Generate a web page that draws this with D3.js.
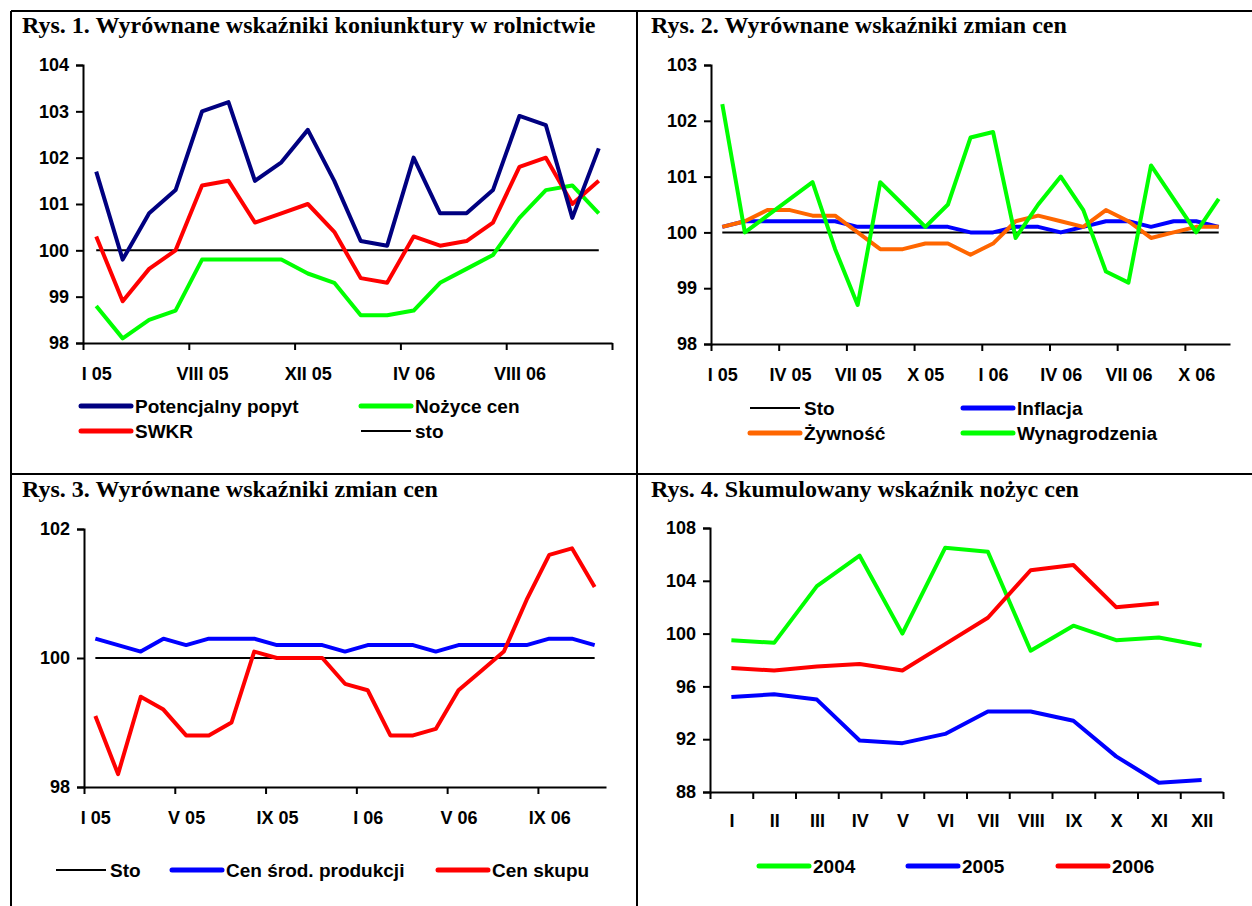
<!DOCTYPE html>
<html>
<head>
<meta charset="utf-8">
<script src="https://cdn.jsdelivr.net/npm/d3@7"></script>
<style>
  body { margin: 0; background: #fff; }
  .title { font-family: "Liberation Serif", "Times New Roman", serif; font-weight: bold; font-size: 24px; }
  .tick text { font-family: "Liberation Sans", Arial, sans-serif; font-weight: bold; font-size: 18px; fill: #000; }
  .lbl { font-family: "Liberation Sans", Arial, sans-serif; font-weight: bold; font-size: 19px; fill: #000; }
</style>
</head>
<body>
<svg id="chart" width="1252" height="906"></svg>
<script>
// Rys. 1 - 20 months
var r1Ticks = ["I 05", "VIII 05", "XII 05", "IV 06", "VIII 06"];
var r1Popyt = [101.7, 99.8, 100.8, 101.3, 103.0, 103.2, 101.5, 101.9, 102.6, 101.5, 100.2, 100.1, 102.0, 100.8, 100.8, 101.3, 102.9, 102.7, 100.7, 102.2];
var r1Swkr  = [100.3, 98.9, 99.6, 100.0, 101.4, 101.5, 100.6, 100.8, 101.0, 100.4, 99.4, 99.3, 100.3, 100.1, 100.2, 100.6, 101.8, 102.0, 101.0, 101.5];
var r1Nozyce = [98.8, 98.1, 98.5, 98.7, 99.8, 99.8, 99.8, 99.8, 99.5, 99.3, 98.6, 98.6, 98.7, 99.3, 99.6, 99.9, 100.7, 101.3, 101.4, 100.8];

// Rys. 2 - 23 months
var r2Ticks = ["I 05", "IV 05", "VII 05", "X 05", "I 06", "IV 06", "VII 06", "X 06"];
var r2Inflacja = [100.1, 100.2, 100.2, 100.2, 100.2, 100.2, 100.1, 100.1, 100.1, 100.1, 100.1, 100.0, 100.0, 100.1, 100.1, 100.0, 100.1, 100.2, 100.2, 100.1, 100.2, 100.2, 100.1];
var r2Zywnosc = [100.1, 100.2, 100.4, 100.4, 100.3, 100.3, 100.0, 99.7, 99.7, 99.8, 99.8, 99.6, 99.8, 100.2, 100.3, 100.2, 100.1, 100.4, 100.2, 99.9, 100.0, 100.1, 100.1];
var r2Wynagr = [102.3, 100.0, 100.3, 100.6, 100.9, 99.7, 98.7, 100.9, 100.5, 100.1, 100.5, 101.7, 101.8, 99.9, 100.5, 101.0, 100.4, 99.3, 99.1, 101.2, 100.6, 100.0, 100.6];

// Rys. 3 - 23 months
var r3Ticks = ["I 05", "V 05", "IX 05", "I 06", "V 06", "IX 06"];
var r3Srodki = [100.3, 100.2, 100.1, 100.3, 100.2, 100.3, 100.3, 100.3, 100.2, 100.2, 100.2, 100.1, 100.2, 100.2, 100.2, 100.1, 100.2, 100.2, 100.2, 100.2, 100.3, 100.3, 100.2];
var r3Skup = [99.1, 98.2, 99.4, 99.2, 98.8, 98.8, 99.0, 100.1, 100.0, 100.0, 100.0, 99.6, 99.5, 98.8, 98.8, 98.9, 99.5, 99.8, 100.1, 100.9, 101.6, 101.7, 101.1];

// Rys. 4 - months I..XII
var r4Ticks = ["I", "II", "III", "IV", "V", "VI", "VII", "VIII", "IX", "X", "XI", "XII"];
var r4y2004 = [99.5, 99.3, 103.6, 105.9, 100.0, 106.5, 106.2, 98.7, 100.6, 99.5, 99.7, 99.1];
var r4y2005 = [95.2, 95.4, 95.0, 91.9, 91.7, 92.4, 94.1, 94.1, 93.4, 90.7, 88.7, 88.9];
var r4y2006 = [97.4, 97.2, 97.5, 97.7, 97.2, 99.2, 101.2, 104.8, 105.2, 102.0, 102.3];

var svg = d3.select("#chart");

// frame
var frame = svg.append("g").attr("stroke", "#000").attr("stroke-width", 2);
frame.append("line").attr("x1", 11).attr("y1", 11).attr("x2", 1252).attr("y2", 11);
frame.append("line").attr("x1", 11).attr("y1", 11).attr("x2", 11).attr("y2", 906);
frame.append("line").attr("x1", 637).attr("y1", 11).attr("x2", 637).attr("y2", 906);
frame.append("line").attr("x1", 11).attr("y1", 474).attr("x2", 1252).attr("y2", 474);

function drawPanel(p) {
    var g = svg.append("g");
    var n = p.n;

    g.append("text").attr("class", "title")
        .attr("x", p.titleX).attr("y", p.titleY)
        .text(p.title);

    var x = d3.scaleLinear().domain([0, n]).range([p.x0, p.x1]);
    var y = d3.scaleLinear().domain(p.yDomain).range([p.y1, p.y0]);

    // y axis
    var yAxis = g.append("g")
        .attr("transform", "translate(" + p.x0 + ",0)")
        .call(d3.axisLeft(y).tickValues(d3.range(p.yDomain[0], p.yDomain[1] + 0.001, p.yStep))
            .tickSize(7).tickPadding(7).tickFormat(d3.format("d")));

    // x axis: tick marks on category boundaries
    var xAxis = g.append("g")
        .attr("transform", "translate(0," + p.y1 + ")")
        .call(d3.axisBottom(x).tickValues(d3.range(0, n + 0.001, p.every))
            .tickSize(7).tickSizeOuter(0).tickFormat(""));

    // x labels centred on categories
    var lblAxis = g.append("g")
        .attr("transform", "translate(0," + p.y1 + ")")
        .call(d3.axisBottom(x).tickValues(p.ticks.map(function(d, i) { return i * p.every + 0.5; }))
            .tickSize(0).tickPadding(p.lblPad)
            .tickFormat(function(d, i) { return p.ticks[i]; }));
    lblAxis.select(".domain").remove();

    [yAxis, xAxis].forEach(function(a) {
        a.selectAll(".domain, line").attr("stroke", "#000").attr("stroke-width", 2);
    });
    g.selectAll(".tick text").attr("font-family", null).attr("font-size", null);

    // sto line
    if (p.sto) {
        g.append("line")
            .attr("x1", x(0.5)).attr("x2", x(n - 0.5))
            .attr("y1", y(100)).attr("y2", y(100))
            .attr("stroke", "#000").attr("stroke-width", 2);
    }

    var line = d3.line()
        .x(function(d, i) { return x(i + 0.5); })
        .y(function(d) { return y(d); });

    p.series.forEach(function(s) {
        g.append("path")
            .datum(s.values)
            .attr("d", line)
            .attr("fill", "none")
            .attr("stroke", s.color)
            .attr("stroke-width", 4)
            .attr("stroke-linejoin", "round");
    });

    // legend
    p.legend.forEach(function(l) {
        g.append("line")
            .attr("x1", l.x).attr("x2", l.x + 50)
            .attr("y1", l.y).attr("y2", l.y)
            .attr("stroke", l.color)
            .attr("stroke-width", l.thin ? 2 : 5)
            .attr("stroke-linecap", l.thin ? "butt" : "round");
        g.append("text").attr("class", "lbl")
            .attr("x", l.x + 54).attr("y", l.y).attr("dy", "0.36em")
            .text(l.label);
    });
}

drawPanel({
    title: "Rys. 1. Wyrównane wskaźniki koniunktury w rolnictwie",
    titleX: 22, titleY: 33, sto: true,
    n: 20, every: 4, ticks: r1Ticks, lblPad: 24,
    x0: 83, x1: 612, y0: 65, y1: 343,
    yDomain: [98, 104], yStep: 1,
    series: [
        {values: r1Nozyce, color: "#00ff00"},
        {values: r1Swkr, color: "#ff0000"},
        {values: r1Popyt, color: "#000080"}
    ],
    legend: [
        {x: 81, y: 406, color: "#000080", label: "Potencjalny popyt"},
        {x: 361, y: 406, color: "#00ff00", label: "Nożyce cen"},
        {x: 81, y: 431, color: "#ff0000", label: "SWKR"},
        {x: 361, y: 431, color: "#000", thin: true, label: "sto"}
    ]
});

drawPanel({
    title: "Rys. 2. Wyrównane wskaźniki zmian cen",
    titleX: 651, titleY: 33, sto: true,
    n: 23, every: 3, ticks: r2Ticks, lblPad: 24,
    x0: 711, x1: 1230, y0: 65, y1: 344,
    yDomain: [98, 103], yStep: 1,
    series: [
        {values: r2Inflacja, color: "#0000ff"},
        {values: r2Zywnosc, color: "#ff6600"},
        {values: r2Wynagr, color: "#00ff00"}
    ],
    legend: [
        {x: 750, y: 408, color: "#000", thin: true, label: "Sto"},
        {x: 963, y: 408, color: "#0000ff", label: "Inflacja"},
        {x: 750, y: 433, color: "#ff6600", label: "Żywność"},
        {x: 963, y: 433, color: "#00ff00", label: "Wynagrodzenia"}
    ]
});

drawPanel({
    title: "Rys. 3. Wyrównane wskaźniki zmian cen",
    titleX: 22, titleY: 497, sto: true,
    n: 23, every: 4, ticks: r3Ticks, lblPad: 24,
    x0: 84, x1: 606, y0: 529, y1: 787,
    yDomain: [98, 102], yStep: 2,
    series: [
        {values: r3Srodki, color: "#0000ff"},
        {values: r3Skup, color: "#ff0000"}
    ],
    legend: [
        {x: 56, y: 870, color: "#000", thin: true, label: "Sto"},
        {x: 172, y: 870, color: "#0000ff", label: "Cen środ. produkcji"},
        {x: 438, y: 870, color: "#ff0000", label: "Cen skupu"}
    ]
});

drawPanel({
    title: "Rys. 4. Skumulowany wskaźnik nożyc cen",
    titleX: 651, titleY: 497, sto: false,
    n: 12, every: 1, ticks: r4Ticks, lblPad: 22,
    x0: 710, x1: 1223, y0: 528, y1: 792,
    yDomain: [88, 108], yStep: 4,
    series: [
        {values: r4y2004, color: "#00ff00"},
        {values: r4y2005, color: "#0000ff"},
        {values: r4y2006, color: "#ff0000"}
    ],
    legend: [
        {x: 759, y: 866, color: "#00ff00", label: "2004"},
        {x: 908, y: 866, color: "#0000ff", label: "2005"},
        {x: 1058, y: 866, color: "#ff0000", label: "2006"}
    ]
});
</script>
</body>
</html>
